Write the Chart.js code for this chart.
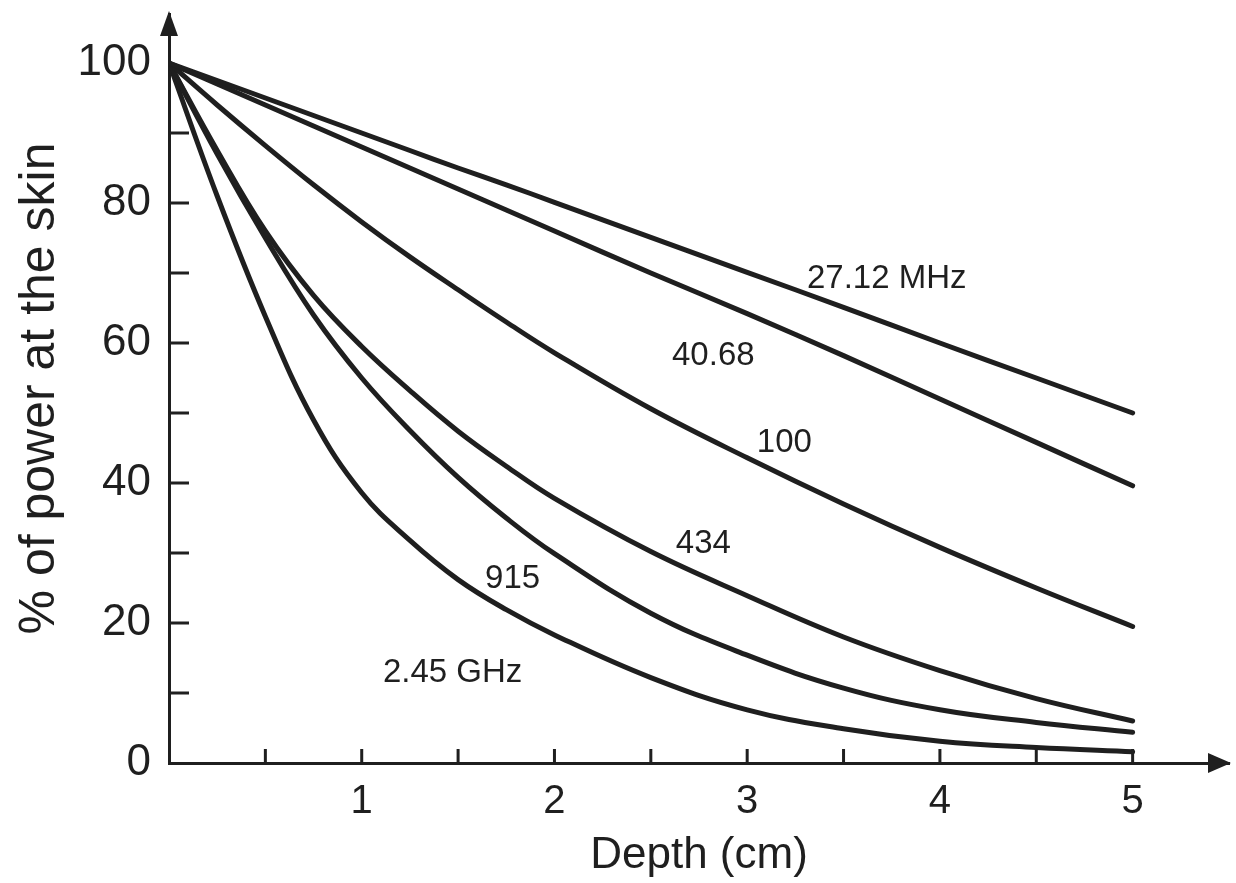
<!DOCTYPE html>
<html>
<head>
<meta charset="utf-8">
<title>Power vs depth</title>
<script src="https://cdn.jsdelivr.net/npm/chart.js@4.4.1/dist/chart.umd.min.js"></script>
<style>
  html, body { margin: 0; padding: 0; background: #fff; }
  #wrap { width: 1236px; height: 883px; }
</style>
</head>
<body>
<div id="wrap"><canvas id="depthChart" width="1236" height="883"></canvas></div>
<script>
// depth in cm, shared by every curve
const depthCm = [0, 0.25, 0.5, 0.75, 1, 1.25, 1.5, 1.75, 2, 2.5, 3, 3.5, 4, 4.5, 5];

// % of power left at each depth
const mhz27 = [100, 97.5, 95, 92.5, 90, 87.5, 85, 82.6, 80.1, 75.1, 70.1, 65.1, 60, 55, 50];
const mhz40 = [100, 97, 94, 91, 88, 85, 82, 79, 76, 70, 64.2, 58.2, 52, 45.8, 39.6];
const mhz100 = [100, 94, 88.2, 82.6, 77.3, 72.3, 67.6, 63, 58.6, 50.6, 43.6, 37, 30.8, 25, 19.5];
const mhz434 = [100, 87.5, 76, 66.8, 59.5, 53.2, 47.4, 42.4, 37.8, 30.2, 23.9, 18, 13.2, 9.2, 6];
const mhz915 = [100, 87, 75, 64, 55, 47.5, 40.8, 35, 29.9, 21.4, 15.4, 10.7, 7.6, 5.8, 4.4];
const ghz245 = [100, 81, 63.8, 49, 38.6, 31.8, 26.2, 21.9, 18.3, 12.2, 7.6, 4.9, 3.1, 2.2, 1.6];

// curve names and where their labels sit (depth, % at baseline)
const seriesNames = ["27.12 MHz", "40.68", "100", "434", "915", "2.45 GHz"];
const labelDepth = [3.31, 2.61, 3.05, 2.63, 1.64, 1.11];
const labelPower = [67.9, 56.9, 44.4, 30.0, 25.0, 11.6];

// axis ticks
const xTickValues = [1, 2, 3, 4, 5];
const yTickValues = [0, 20, 40, 60, 80, 100];
const xTickMarks = [0.5, 1, 1.5, 2, 2.5, 3, 3.5, 4, 4.5, 5];
const yTickMarks = [10, 20, 30, 40, 50, 60, 70, 80, 90];

const ink = "#1f1f1f";
const family = "'Liberation Sans', Arial, Helvetica, sans-serif";

const allSeries = [mhz27, mhz40, mhz100, mhz434, mhz915, ghz245];

// small inward tick marks, arrow heads and curve labels
const figureMarks = {
  id: "figureMarks",
  afterDraw(chart) {
    const ctx = chart.ctx;
    const x = chart.scales.x;
    const y = chart.scales.y;
    ctx.save();
    ctx.strokeStyle = ink;
    ctx.fillStyle = ink;
    ctx.lineWidth = 3;
    xTickMarks.forEach(function (v) {
      const px = x.getPixelForValue(v);
      ctx.beginPath();
      ctx.moveTo(px, y.bottom);
      ctx.lineTo(px, y.bottom - 14);
      ctx.stroke();
    });
    yTickMarks.forEach(function (v) {
      const py = y.getPixelForValue(v);
      ctx.beginPath();
      ctx.moveTo(x.left, py);
      ctx.lineTo(x.left + 20, py);
      ctx.stroke();
    });

    // arrow on top of y axis
    ctx.beginPath();
    ctx.moveTo(x.left, y.top - 3);
    ctx.lineTo(x.left - 9, y.top + 22);
    ctx.lineTo(x.left + 9, y.top + 22);
    ctx.closePath();
    ctx.fill();
    // arrow at the end of x axis
    ctx.beginPath();
    ctx.moveTo(x.right + 2, y.bottom);
    ctx.lineTo(x.right - 21, y.bottom - 10);
    ctx.lineTo(x.right - 21, y.bottom + 10);
    ctx.closePath();
    ctx.fill();

    ctx.font = "33px " + family;
    ctx.textAlign = "left";
    ctx.textBaseline = "alphabetic";
    seriesNames.forEach(function (name, i) {
      ctx.fillText(name, x.getPixelForValue(labelDepth[i]), y.getPixelForValue(labelPower[i]));
    });
    ctx.restore();
  },
};

const ctx = document.getElementById("depthChart").getContext("2d");
new Chart(ctx, {
  type: "line",
  data: {
    datasets: allSeries.map(function (vals, i) {
      return {
        label: seriesNames[i],
        data: depthCm.map(function (d, j) {
          return { x: d, y: vals[j] };
        }),
        borderColor: ink,
        borderWidth: 5,
        pointRadius: 0,
        fill: false,
        tension: 0.4,
        borderCapStyle: "round",
        borderJoinStyle: "round",
      };
    }),
  },
  options: {
    responsive: false,
    animation: false,
    devicePixelRatio: 1,
    layout: { padding: { top: 14, right: 7, bottom: 0, left: 0 } },
    plugins: {
      legend: { display: false },
      tooltip: { enabled: false },
    },
    scales: {
      x: {
        type: "linear",
        min: 0,
        max: 5.5,
        afterBuildTicks: function (scale) {
          scale.ticks = xTickValues.map(function (v) {
            return { value: v };
          });
        },
        afterFit: function (scale) {
          scale.height = 120;
          scale.paddingLeft = 0;
          scale.paddingRight = 0;
        },
        grid: { display: false, drawTicks: false },
        border: { display: true, color: ink, width: 3 },
        ticks: {
          color: ink,
          padding: 15,
          maxRotation: 0,
          font: { family: family, size: 40 },
        },
        title: {
          display: true,
          text: "Depth (cm)",
          color: ink,
          font: { family: family, size: 44 },
          padding: { top: 0, bottom: 1 },
        },
      },
      y: {
        min: 0,
        max: 107,
        afterBuildTicks: function (scale) {
          scale.ticks = yTickValues.map(function (v) {
            return { value: v };
          });
        },
        afterFit: function (scale) {
          scale.width = 169;
          scale.paddingTop = 0;
          scale.paddingBottom = 0;
        },
        grid: { display: false, drawTicks: false },
        border: { display: true, color: ink, width: 3 },
        ticks: {
          color: ink,
          padding: 18,
          font: { family: family, size: 44 },
        },
        title: {
          display: true,
          text: "% of power at the skin",
          color: ink,
          font: { family: family, size: 50 },
          padding: { top: 10, bottom: 0 },
        },
      },
    },
  },
  plugins: [figureMarks],
});
</script>
</body>
</html>
